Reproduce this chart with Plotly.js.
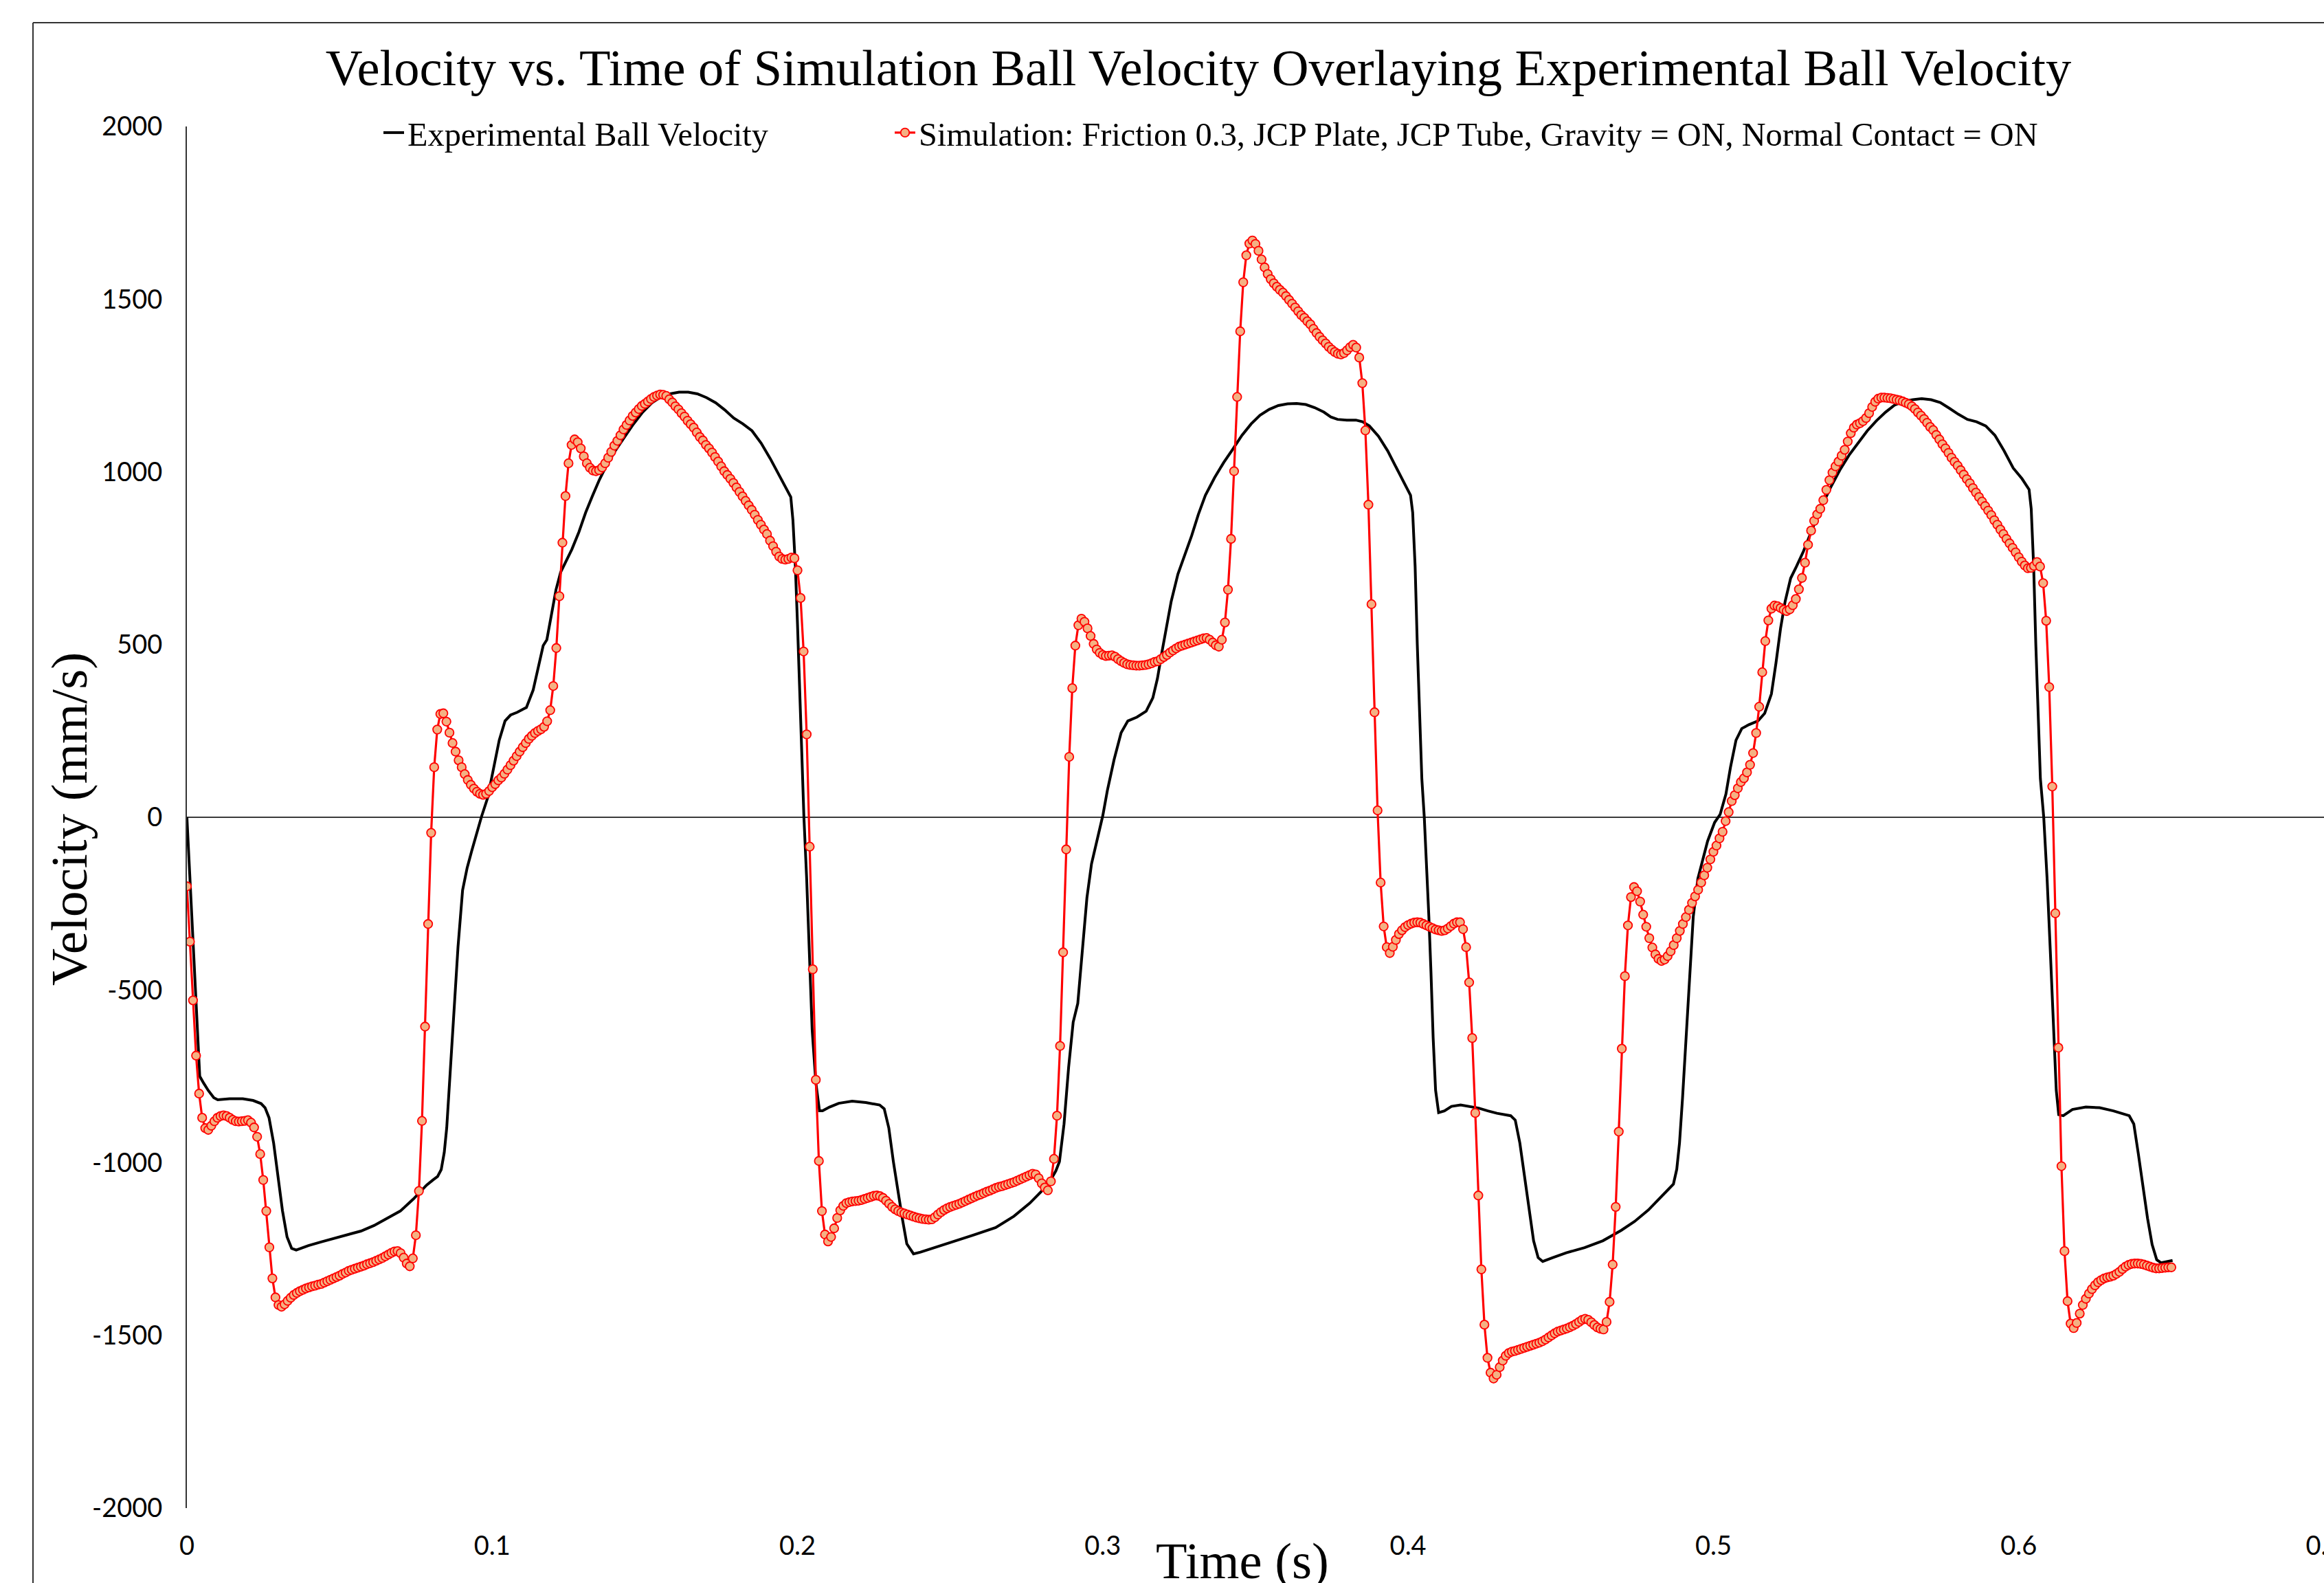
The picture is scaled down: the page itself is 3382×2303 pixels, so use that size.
<!DOCTYPE html>
<html><head><meta charset="utf-8">
<script src="https://cdn.plot.ly/plotly-3.0.1.min.js"></script>
<style>html,body{margin:0;padding:0;background:#fff;overflow:hidden}#chart{width:3382px;height:2303px}</style>
</head><body><div id="chart"></div>
<script>
const titleText = 'Velocity vs. Time of Simulation Ball Velocity Overlaying Experimental Ball Velocity';
const xTitleText = 'Time (s)';
const yTitleText = 'Velocity (mm/s)';
const expName = 'Experimental Ball Velocity';
const simName = 'Simulation: Friction 0.3, JCP Plate, JCP Tube, Gravity = ON, Normal Contact = ON';

const xTickVals = [0, 0.1, 0.2, 0.3, 0.4, 0.5, 0.6, 0.7];
const xTickText = ['0', '0.1', '0.2', '0.3', '0.4', '0.5', '0.6', '0.7'];
const yTickVals = [-2000, -1500, -1000, -500, 0, 500, 1000, 1500, 2000];
const yTickText = ['-2000', '-1500', '-1000', '-500', '0', '500', '1000', '1500', '2000'];

// Experimental ball velocity (time s, velocity mm/s)
const expTime = [0,0.0042,0.0055,0.007,0.0088,0.0101,0.014,0.0183,0.0217,0.0243,0.0256,0.0269,0.0284,0.0299,0.0313,0.0328,0.0343,0.0358,0.0398,0.0441,0.0493,0.0527,0.057,0.0613,0.0656,0.0699,0.0742,0.0785,0.0806,0.0821,0.0833,0.0843,0.0851,0.0861,0.0873,0.0888,0.0903,0.0918,0.0933,0.0948,0.0965,0.0985,0.1003,0.1023,0.1042,0.106,0.1082,0.1112,0.1134,0.1152,0.1167,0.1179,0.1194,0.1209,0.1224,0.1242,0.1261,0.1284,0.1306,0.1329,0.1351,0.1373,0.1403,0.1433,0.1463,0.1493,0.1523,0.1552,0.1582,0.1612,0.1642,0.1672,0.1702,0.1732,0.1761,0.1791,0.1821,0.1851,0.1881,0.1911,0.1941,0.1963,0.1978,0.1985,0.1993,0.2,0.2008,0.2015,0.2021,0.203,0.2038,0.2048,0.206,0.2072,0.2082,0.2105,0.2135,0.2179,0.2224,0.2269,0.2284,0.2299,0.2314,0.2329,0.2343,0.2358,0.238,0.2403,0.244,0.25,0.2574,0.2649,0.2709,0.2761,0.2798,0.2828,0.2846,0.2858,0.2873,0.2888,0.2903,0.2918,0.2933,0.2948,0.2963,0.2985,0.3,0.3015,0.3037,0.306,0.3082,0.3112,0.3142,0.3164,0.3179,0.3194,0.3209,0.3224,0.3246,0.3269,0.3291,0.3313,0.3336,0.3366,0.3396,0.3426,0.3456,0.3486,0.3515,0.3545,0.3575,0.3605,0.3635,0.3665,0.3694,0.3724,0.3747,0.3769,0.3799,0.3829,0.3851,0.3873,0.3903,0.3933,0.3963,0.3993,0.4008,0.4015,0.4023,0.403,0.4038,0.4045,0.4053,0.406,0.4068,0.4075,0.4082,0.409,0.41,0.4119,0.4142,0.4172,0.4202,0.4231,0.4261,0.4291,0.4336,0.4351,0.4366,0.4381,0.4396,0.4411,0.4426,0.4441,0.4474,0.4518,0.4578,0.4638,0.4698,0.4742,0.4787,0.4832,0.4869,0.488,0.4889,0.4899,0.491,0.4922,0.4934,0.4949,0.4964,0.4981,0.5004,0.5022,0.5041,0.5056,0.5074,0.5093,0.5116,0.5146,0.5168,0.519,0.5205,0.522,0.5235,0.5253,0.5272,0.5295,0.5325,0.5354,0.5384,0.5414,0.5444,0.5474,0.5504,0.5534,0.5564,0.5593,0.5623,0.5653,0.5683,0.5713,0.5743,0.5773,0.5802,0.5832,0.5862,0.5892,0.5922,0.5952,0.5982,0.6011,0.6034,0.6041,0.6049,0.6056,0.6064,0.6071,0.6082,0.6093,0.6104,0.6116,0.6123,0.6131,0.6146,0.6176,0.622,0.6265,0.631,0.6362,0.6377,0.6392,0.6407,0.6422,0.6437,0.6452,0.6466,0.6489,0.6504];
const expVel = [0,-750,-770,-791,-812,-818,-815,-815,-820,-829,-841,-870,-943,-1041,-1139,-1215,-1248,-1253,-1240,-1229,-1217,-1208,-1198,-1182,-1160,-1140,-1105,-1065,-1050,-1040,-1020,-970,-899,-757,-593,-375,-211,-146,-97,-47,2,56,134,223,279,296,304,318,368,435,497,514,592,659,709,743,776,826,882,932,977,1016,1061,1100,1139,1173,1200,1217,1226,1231,1231,1226,1215,1200,1180,1156,1139,1119,1083,1038,988,955,927,860,726,558,335,112,0,-178,-397,-615,-768,-850,-850,-839,-828,-822,-826,-833,-844,-899,-997,-1084,-1160,-1235,-1264,-1259,-1248,-1232,-1210,-1188,-1155,-1117,-1084,-1052,-1024,-997,-888,-724,-593,-539,-375,-233,-135,-47,5,78,167,245,279,290,307,346,402,480,558,625,704,759,815,877,932,983,1027,1066,1106,1139,1164,1181,1192,1197,1198,1195,1186,1173,1159,1152,1150,1150,1145,1133,1103,1061,1011,960,932,882,726,502,279,111,0,-124,-288,-451,-637,-790,-855,-850,-837,-833,-837,-842,-850,-857,-864,-877,-943,-1040,-1139,-1226,-1275,-1286,-1275,-1261,-1246,-1226,-1196,-1170,-1137,-1095,-1062,-1019,-943,-811,-637,-451,-288,-178,-124,-69,-15,8,67,145,223,257,268,279,301,357,447,547,625,692,726,770,837,899,955,1005,1048,1085,1119,1148,1173,1193,1204,1209,1212,1209,1201,1184,1167,1152,1145,1133,1106,1061,1011,980,949,893,726,502,279,112,0,-178,-397,-637,-790,-861,-864,-846,-839,-841,-850,-864,-888,-975,-1074,-1161,-1237,-1281,-1290,-1286,-1283];

// Simulation ball velocity, one value per simulation step
const simStart = 0;
const simStep = 0.001;
const simVel = [
-200,-360,-530,-690,-800,-870,-900,-905,-893,-880,
-870,-865,-863,-865,-870,-876,-880,-881,-880,-879,
-877,-884,-898,-925,-975,-1050,-1140,-1245,-1335,-1390,
-1412,-1417,-1410,-1400,-1391,-1383,-1377,-1372,-1368,-1364,
-1361,-1358,-1356,-1353,-1351,-1347,-1343,-1339,-1335,-1331,
-1327,-1322,-1318,-1313,-1310,-1307,-1304,-1301,-1298,-1294,
-1291,-1288,-1284,-1280,-1276,-1271,-1266,-1261,-1257,-1256,
-1262,-1275,-1292,-1300,-1277,-1210,-1082,-879,-606,-309,
-45,145,254,299,301,277,245,215,190,165,
145,125,108,94,83,74,68,65,68,76,
87,96,107,115,126,138,151,164,177,190,
203,215,227,236,244,250,255,262,278,310,
380,490,640,795,930,1025,1078,1094,1086,1068,
1045,1025,1012,1004,1002,1005,1013,1025,1041,1058,
1076,1090,1106,1123,1136,1149,1162,1172,1182,1191,
1197,1204,1211,1217,1221,1224,1223,1220,1210,1201,
1190,1181,1170,1160,1148,1138,1128,1114,1101,1091,
1078,1068,1056,1043,1030,1016,1002,991,980,968,
955,942,929,916,903,890,876,861,847,833,
820,801,785,769,755,748,746,748,752,750,
715,635,480,240,-85,-440,-760,-995,-1140,-1208,
-1228,-1215,-1190,-1160,-1138,-1125,-1117,-1114,-1112,-1111,
-1110,-1108,-1105,-1102,-1099,-1096,-1095,-1097,-1102,-1110,
-1119,-1128,-1135,-1140,-1144,-1147,-1150,-1153,-1156,-1159,
-1161,-1163,-1164,-1165,-1164,-1158,-1150,-1143,-1137,-1132,
-1128,-1125,-1122,-1119,-1115,-1111,-1107,-1103,-1099,-1095,
-1092,-1088,-1084,-1081,-1077,-1073,-1070,-1068,-1065,-1062,
-1059,-1056,-1052,-1048,-1044,-1040,-1036,-1032,-1034,-1045,
-1060,-1072,-1080,-1054,-989,-864,-662,-391,-93,175,
374,497,556,575,566,547,525,502,486,476,
470,467,468,469,465,458,452,447,443,441,
440,439,439,440,441,443,446,450,452,458,
464,470,477,483,489,494,497,500,503,506,
509,512,515,518,519,514,506,498,494,514,
564,659,806,1002,1217,1407,1549,1627,1661,1670,
1660,1640,1615,1592,1573,1558,1546,1536,1527,1519,
1509,1498,1487,1476,1465,1454,1446,1436,1427,1414,
1402,1391,1381,1372,1362,1354,1347,1342,1340,1344,
1352,1361,1368,1360,1331,1257,1120,905,617,304,
20,-189,-316,-376,-393,-375,-355,-338,-327,-318,
-312,-308,-305,-304,-305,-309,-313,-317,-321,-325,
-327,-329,-327,-322,-315,-308,-304,-304,-324,-376,
-478,-639,-856,-1095,-1309,-1469,-1565,-1608,-1625,-1614,
-1592,-1573,-1559,-1551,-1547,-1545,-1542,-1539,-1536,-1533,
-1530,-1527,-1524,-1521,-1517,-1512,-1506,-1500,-1494,-1489,
-1486,-1483,-1480,-1476,-1472,-1467,-1461,-1455,-1452,-1455,
-1462,-1470,-1477,-1481,-1483,-1461,-1403,-1295,-1128,-910,
-670,-460,-313,-231,-202,-214,-244,-282,-317,-350,
-377,-397,-410,-416,-412,-402,-388,-370,-350,-329,
-309,-289,-268,-248,-229,-210,-189,-168,-146,-122,
-100,-82,-61,-42,-11,15,47,64,84,102,
113,130,152,186,244,320,420,510,570,604,
613,611,606,601,597,602,614,632,660,693,
737,789,830,858,877,893,918,948,976,998,
1016,1030,1047,1064,1088,1112,1128,1137,1141,1147,
1156,1170,1188,1203,1212,1215,1215,1214,1213,1211,
1209,1207,1204,1200,1196,1190,1182,1172,1163,1153,
1142,1130,1121,1107,1094,1080,1068,1055,1041,1029,
1018,1005,992,979,967,953,940,927,914,901,
888,875,860,847,833,820,806,793,780,767,
753,740,729,721,722,728,739,726,678,569,
377,89,-278,-667,-1010,-1256,-1401,-1466,-1479,-1464,
-1437,-1412,-1394,-1379,-1366,-1355,-1346,-1340,-1335,-1332,
-1330,-1327,-1322,-1316,-1308,-1301,-1296,-1293,-1292,-1292,
-1293,-1295,-1298,-1301,-1304,-1306,-1306,-1305,-1304,-1303,
-1303];
const simTime = simVel.map((_, i) => +(simStart + i * simStep).toFixed(4));

const SERIF = '"Liberation Serif", "Times New Roman", serif';
const SANS = 'Lato, Calibri, "Open Sans", sans-serif';

const W = 3382, H = 2303;
const L = 272, R = 0, T = 184, B = 109;
const PW = W - L - R, PH = H - T - B;
const px2x = p => (p - L) / PW;
const py2y = p => (H - B - p) / PH;

const traces = [
  {
    type: 'scatter', mode: 'lines', name: expName,
    x: expTime, y: expVel,
    line: {color: '#000000', width: 4},
    legend: 'legend', hoverinfo: 'skip'
  },
  {
    type: 'scatter', mode: 'lines+markers', name: simName,
    x: simTime, y: simVel,
    line: {color: '#FF0000', width: 3.2},
    marker: {symbol: 'circle', size: 12.5, color: '#F4B183', line: {color: '#FF0000', width: 1.8}},
    legend: 'legend2', hoverinfo: 'skip'
  }
];

const layout = {
  width: W, height: H,
  paper_bgcolor: '#ffffff', plot_bgcolor: '#ffffff',
  margin: {l: L, r: R, t: T, b: B, pad: 0, autoexpand: false},
  title: {
    text: titleText,
    font: {family: SERIF, size: 74.5, color: '#000000'},
    xref: 'container', x: 1744 / W, xanchor: 'center',
    yref: 'container', y: 1 - 98 / H, yanchor: 'middle'
  },
  showlegend: true,
  legend: {
    orientation: 'h', xref: 'container', yref: 'container',
    x: 553 / W, xanchor: 'left', y: 1 - 193 / H, yanchor: 'middle',
    font: {family: SERIF, size: 48.3, color: '#000000'},
    bgcolor: 'rgba(0,0,0,0)', borderwidth: 0
  },
  legend2: {
    orientation: 'h', xref: 'container', yref: 'container',
    x: 1297 / W, xanchor: 'left', y: 1 - 193 / H, yanchor: 'middle',
    font: {family: SERIF, size: 48.3, color: '#000000'},
    bgcolor: 'rgba(0,0,0,0)', borderwidth: 0
  },
  xaxis: {
    range: [0, 0.7], autorange: false,
    tickvals: xTickVals, ticktext: xTickText,
    showgrid: false, zeroline: false, showline: false, ticks: '',
    ticklabelstandoff: 29, ticklabeloverflow: 'allow',
    tickfont: {family: SANS, size: 38, color: '#000000'},
    automargin: false, fixedrange: true
  },
  yaxis: {
    range: [-2000, 2000], autorange: false,
    tickvals: yTickVals, ticktext: yTickText,
    showgrid: false, zeroline: true, zerolinecolor: '#3a3a3a', zerolinewidth: 1.5,
    showline: true, linecolor: '#333333', linewidth: 2, ticks: '',
    ticklabelstandoff: 26,
    tickfont: {family: SANS, size: 38, color: '#000000'},
    automargin: false, fixedrange: true
  },
  annotations: [
    {
      text: yTitleText, showarrow: false, textangle: -90,
      xref: 'paper', yref: 'paper',
      x: px2x(100), xanchor: 'center',
      y: py2y(1192), yanchor: 'middle',
      font: {family: SERIF, size: 75, color: '#000000'}
    },
    {
      text: xTitleText, showarrow: false,
      xref: 'paper', yref: 'paper',
      x: px2x(1808), xanchor: 'center',
      y: py2y(2271), yanchor: 'middle',
      font: {family: SERIF, size: 74.5, color: '#000000'}
    }
  ],
  shapes: [
    {type: 'line', xref: 'paper', yref: 'paper', x0: px2x(48), x1: px2x(3420), y0: py2y(33), y1: py2y(33), line: {color: '#333333', width: 2}},
    {type: 'line', xref: 'paper', yref: 'paper', x0: px2x(48), x1: px2x(48), y0: py2y(33), y1: py2y(2340), line: {color: '#333333', width: 2}}
  ]
};

Plotly.newPlot('chart', traces, layout, {displayModeBar: false, staticPlot: true});
</script>
</body></html>
